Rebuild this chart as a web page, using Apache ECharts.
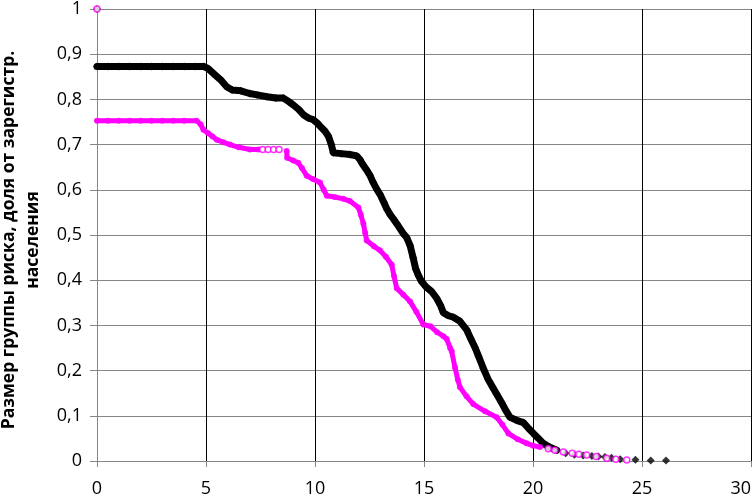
<!DOCTYPE html>
<html><head><meta charset="utf-8">
<script src="https://cdn.jsdelivr.net/npm/echarts@6/dist/echarts.min.js"></script>
<style>html,body{margin:0;padding:0;background:#fff}#c{width:756px;height:499px}</style>
</head><body><div id="c"></div>
<script>
var xTicks = [0, 5, 10, 15, 20, 25, 30];
var yTitle = ['Размер группы риска, доля от зарегистр.', 'населения'];

var blackMain = [[0,0.873],[0.5,0.873],[1,0.873],[1.5,0.873],[2,0.873],[2.5,0.873],[3,0.873],[3.5,0.873],[4,0.873],[4.5,0.873],[4.9,0.873],
[5.1,0.868],[5.4,0.855],[5.7,0.842],[5.95,0.828],[6.2,0.821],[6.6,0.819],[7.0,0.813],[7.35,0.81],[7.8,0.806],[8.2,0.803],[8.55,0.803],
[8.8,0.795],[9.0,0.788],[9.25,0.778],[9.47,0.766],[9.7,0.759],[9.92,0.755],[10.1,0.748],[10.23,0.741],[10.45,0.73],[10.61,0.719],
[10.75,0.70],[10.84,0.682],[11.2,0.68],[11.6,0.678],[11.91,0.675],[12.06,0.667],[12.14,0.66],[12.35,0.645],[12.52,0.632],[12.67,0.616],
[12.85,0.60],[12.98,0.59],[13.15,0.573],[13.29,0.558],[13.45,0.545],[13.59,0.536],[13.75,0.525],[13.9,0.514],[14.05,0.503],[14.2,0.495],
[14.36,0.477],[14.5,0.45],[14.62,0.425],[14.75,0.41],[14.89,0.397],[15.1,0.385],[15.35,0.375],[15.58,0.36],[15.75,0.345],[15.89,0.328],
[16.1,0.322],[16.35,0.318],[16.65,0.309],[16.96,0.29],[17.15,0.27],[17.34,0.251],[17.5,0.232],[17.72,0.205],[17.95,0.18],[18.15,0.163],
[18.33,0.148],[18.55,0.13],[18.75,0.112],[18.94,0.097],[19.25,0.09],[19.56,0.085],[19.8,0.072],[20.02,0.061],[20.25,0.05],[20.47,0.039],
[20.75,0.031],[21.09,0.024]];
var blackTail = [[0,1],[21.5,0.017],[21.9,0.014],[22.3,0.012],[22.7,0.011],[23.0,0.010],[23.3,0.009],[23.6,0.007],[24.0,0.004],[24.7,0.003],[25.4,0.001],[26.1,0.001]];

var magentaA = [[0,0.753],[0.5,0.753],[1,0.753],[1.5,0.753],[2,0.753],[2.5,0.753],[3,0.753],[3.5,0.753],[4,0.753],[4.57,0.753],
[4.75,0.745],[4.88,0.733],[5.1,0.725],[5.3,0.718],[5.49,0.711],[5.8,0.705],[6.1,0.70],[6.5,0.694],[7.02,0.689],[7.4,0.689]];
var magentaB = [[8.7,0.686],[8.72,0.671],[9.0,0.665],[9.23,0.66],[9.4,0.648],[9.62,0.631],[9.9,0.624],[10.23,0.616],[10.4,0.60],[10.54,0.587],
[10.9,0.584],[11.3,0.58],[11.6,0.575],[11.99,0.561],[12.1,0.545],[12.22,0.525],[12.3,0.505],[12.37,0.488],[12.7,0.475],[12.98,0.466],
[13.25,0.452],[13.52,0.434],[13.62,0.41],[13.75,0.382],[14.05,0.368],[14.36,0.353],[14.65,0.33],[14.97,0.302],[15.3,0.298],[15.6,0.285],
[15.89,0.276],[16.04,0.27],[16.2,0.25],[16.27,0.243],[16.42,0.207],[16.55,0.18],[16.65,0.163],[16.95,0.143],[17.26,0.126],[17.8,0.11],
[18.33,0.097],[18.6,0.08],[18.87,0.061],[19.3,0.048],[19.71,0.039],[20.0,0.034],[20.32,0.031]];
var magentaTail = [[0,1],[7.6,0.689],[7.85,0.689],[8.1,0.689],[8.35,0.689],[20.7,0.027],[21.0,0.024],[21.39,0.02],[21.8,0.017],[22.1,0.015],
[22.46,0.013],[22.9,0.010],[23.38,0.006],[23.8,0.004],[24.3,0.002]];

var BLACK = '#000000', MAG = '#ff00ff';
var font = '"Open Sans", "Noto Sans", sans-serif';
var chart = echarts.init(document.getElementById('c'), null, {renderer: 'canvas'});
function lineS(data, color, w) {
  return {type: 'line', data: data, showSymbol: false, symbol: 'none', lineStyle: {color: color, width: w, join: 'round', cap: 'round'}, z: 3, animation: false};
}
function scatS(data, color, sym, size, hollow) {
  return {type: 'scatter', data: data, symbol: sym, symbolSize: size,
    itemStyle: hollow ? {color: '#fff', borderColor: color, borderWidth: 1.5} : {color: color}, z: 4, animation: false};
}
chart.setOption({
  animation: false,
  grid: {left: 97, right: 5, top: 5, bottom: 38},
  xAxis: {type: 'value', min: 0, max: 30, interval: 5,
    axisLine: {show: true, onZero: false, lineStyle: {color: '#868686'}},
    axisTick: {show: true, length: 6, lineStyle: {color: '#868686'}},
    axisLabel: {color: '#000', fontSize: 18, fontFamily: font, margin: 19, alignMaxLabel: 'right',
      formatter: function(v){return xTicks.indexOf(v) >= 0 ? String(v) : '';}},
    splitLine: {show: true, lineStyle: {color: '#000', width: 1}}},
  yAxis: {type: 'value', min: 0, max: 1, interval: 0.1,
    axisLine: {show: true, lineStyle: {color: '#868686'}},
    axisTick: {show: true, length: 7, lineStyle: {color: '#868686'}},
    axisLabel: {color: '#000', fontSize: 18, fontFamily: font, margin: 15,
      formatter: function(v){return (Math.round(v*10)/10).toString().replace('.', ',');}},
    splitLine: {show: true, lineStyle: {color: '#868686', width: 1}}},
  graphic: [{type: 'text', x: 21, y: 240, rotation: Math.PI/2,
    style: {text: yTitle.join('\n'), font: 'bold 17.5px ' + font, fill: '#000', align: 'center', verticalAlign: 'middle', lineHeight: 24}}],
  series: [
    lineS(blackMain, BLACK, 7),
    scatS(blackMain, BLACK, 'diamond', 8, false),
    scatS(blackTail, BLACK, 'diamond', 8, false),
    lineS(magentaA, MAG, 5),
    lineS(magentaB, MAG, 5),
    scatS(magentaA, MAG, 'circle', 6, false),
    scatS(magentaB, MAG, 'circle', 6, false),
    scatS(magentaTail, MAG, 'circle', 6, true)
  ]
});
</script></body></html>
